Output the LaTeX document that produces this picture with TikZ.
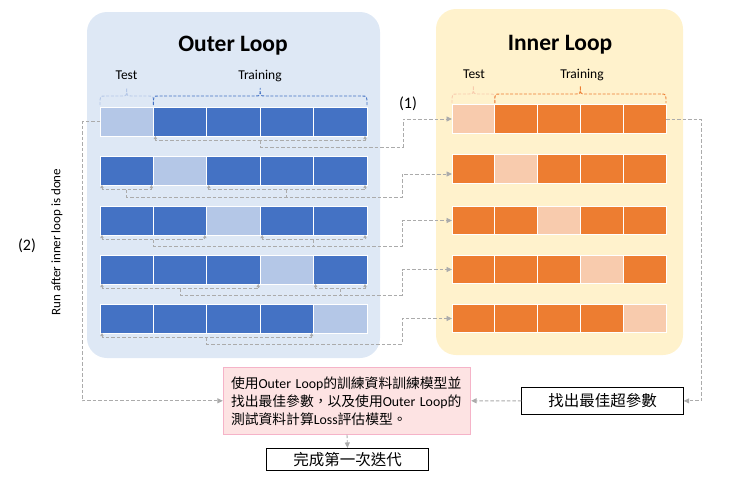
\documentclass[tikz,border=0pt]{standalone}
\usepackage{fontspec}
\setmainfont{Carlito}
\newfontfamily\cjk{Noto Sans CJK TC}
\usetikzlibrary{arrows.meta,calc}
\definecolor{oBg}{HTML}{DEE8F5}
\definecolor{iBg}{HTML}{FFF2CC}
\definecolor{oDark}{HTML}{4472C4}
\definecolor{oLight}{HTML}{B4C7E7}
\definecolor{iDark}{HTML}{ED7D31}
\definecolor{iLight}{HTML}{F8CBAD}
\definecolor{cGray}{HTML}{ABABAB}
\definecolor{pinkFill}{HTML}{FDE3E3}
\definecolor{pinkLine}{HTML}{F5B3C8}
\newcommand\mybrk[3]{%
  \draw[bk] ($(#1.south west)+(2,0)$) -- ++(0,4.5) -| ($(#2.south east)+(-2,0)$);
  \coordinate (#3) at ($(#1.south west)!0.5!(#2.south east)+(0,4.5)$);}
\newcommand\mybrace[5]{%
  \draw[#1,line width=0.9pt,dash pattern=on 3pt off 1.6pt]
    (#2,#4) .. controls (#2,#5) .. ({#2+5},#5) -- ({(#2+#3)/2-5},#5)
    .. controls ({(#2+#3)/2},#5) .. ({(#2+#3)/2},{#5-8})
    .. controls ({(#2+#3)/2},#5) .. ({(#2+#3)/2+5},#5) -- ({#3-5},#5)
    .. controls (#3,#5) .. (#3,#4);}
\begin{document}
\begin{tikzpicture}[x=1pt,y=-1pt,
  conn/.style={draw=cGray,line width=0.9pt,dash pattern=on 3.5pt off 2pt},
  bk/.style={conn,{Triangle[length=3pt,width=3.2pt]}-{Triangle[length=3pt,width=3.2pt]}},
  ar/.style={conn,-{Triangle[length=5.5pt,width=5pt]}},
  ocell/.style={draw=white,line width=0.8pt,minimum width=53.4pt,minimum height=29pt,inner sep=0pt,outer sep=0pt},
  icell/.style={draw=white,line width=0.8pt,minimum width=42.8pt,minimum height=28.5pt,inner sep=0pt,outer sep=0pt},
  title/.style={anchor=base,font=\fontsize{23.5}{26}\selectfont\bfseries},
  lbl/.style={anchor=base,font=\fontsize{13.5}{16}\selectfont},
  wbox/.style={draw=black,fill=white,line width=0.8pt,inner sep=0pt,font=\fontsize{15.5}{18}\selectfont},
  pinkbox/.style={fill=pinkFill,draw=pinkLine,line width=0.8pt,minimum width=247.4pt,minimum height=67pt,
    text width=232pt,align=left,inner xsep=7.7pt,font=\fontsize{13.8}{18}\selectfont}]
\useasboundingbox (0,0) rectangle (731,479);
% backgrounds
\fill[oBg,rounded corners=20pt] (87,12) rectangle (380,358);
\fill[iBg,rounded corners=20pt] (436,9) rectangle (683,355);
\node[title] (ot) at (233,51.5) {Outer Loop};
\node[title] (it) at (560,50.5) {Inner Loop};
\node[lbl] (otest) at (126.5,79) {Test};
\node[lbl] (otrain) at (260,79) {Training};
\node[lbl] (itest) at (474,78.3) {Test};
\node[lbl] (itrain) at (582,78.3) {Training};
\mybrace{oLight}{100}{153.4}{105}{96}
\mybrace{oDark}{153.4}{367}{105}{96}
\mybrace{iLight}{452}{494.8}{103}{94}
\mybrace{iDark}{494.8}{666}{103}{94}
% cells
\foreach \r/\yo/\yi in {1/121.5/119,2/170.5/169,3/220.5/220.5,4/269.5/269.5,5/318.5/318.5}{
  \foreach \c in {1,...,5}{
    \ifnum\c=\r \def\colO{oLight}\def\colI{iLight}\else\def\colO{oDark}\def\colI{iDark}\relax\fi
    \node[ocell,fill=\colO] (o\r\c) at ({100+53.4*(\c-0.5)},\yo) {};
    \node[icell,fill=\colI] (i\r\c) at ({452+42.8*(\c-0.5)},\yi) {};
  }}
% text nodes
\node[font=\fontsize{16}{18}\selectfont] (n1) at (408,104) {(1)};
\node[font=\fontsize{16}{18}\selectfont] (n2) at (27,246) {(2)};
\node[rotate=90,font=\fontsize{13}{15}\selectfont] (runlbl) at (57,242) {Run after inner loop is done};
\node[pinkbox] (pink) at (347,400.8) {{\cjk 使用}Outer Loop{\cjk 的訓練資料訓練模型並}\\
  {\cjk 找出最佳參數，以及使用}Outer Loop{\cjk 的}\\
  {\cjk 測試資料計算}Loss{\cjk 評估模型。}};
\node[wbox,minimum width=161.6pt,minimum height=26.3pt] (best) at (602.5,400.9) {\cjk 找出最佳超參數};
\node[wbox,minimum width=161.6pt,minimum height=21.7pt] (done) at (347.5,459.2) {\cjk 完成第一次迭代};
% row 1
\mybrk{o12}{o15}{m11}
\coordinate (j1) at (403,147);
\draw[ar] (m11) |- (j1) |- (i11.west);
% row 2
\mybrk{o21}{o21}{m21}
\mybrk{o23}{o25}{m22}
\coordinate (j2) at (402,197);
\draw[ar] (m21) |- (j2) |- ($(i21.west)+(0,5)$);
\draw[conn] (m22) -- (m22 |- j2);
% row 3
\mybrk{o31}{o32}{m31}
\mybrk{o34}{o35}{m32}
\coordinate (j3) at (402,246);
\draw[ar] (m31) |- (j3) |- (i31.west);
\draw[conn] (m32) -- (m32 |- j3);
% row 4
\mybrk{o41}{o43}{m41}
\mybrk{o45}{o45}{m42}
\coordinate (j4) at (402,295);
\draw[ar] (m41) |- (j4) |- (i41.west);
\draw[conn] (m42) -- (m42 |- j4);
% row 5
\mybrk{o51}{o54}{m51}
\coordinate (j5) at (402,344);
\draw[ar] (m51) |- (j5) |- (i51.west);
% outer loops
\draw[ar] (o11.west) -- ++(-18,0) |- (pink.west);
\draw[ar] (i15.east) -- ++(35,0) |- (best.east);
\draw[ar] (best.west) -- (pink.east);
\draw[ar] (pink.south) -- (done.north);
\end{tikzpicture}
\end{document}
